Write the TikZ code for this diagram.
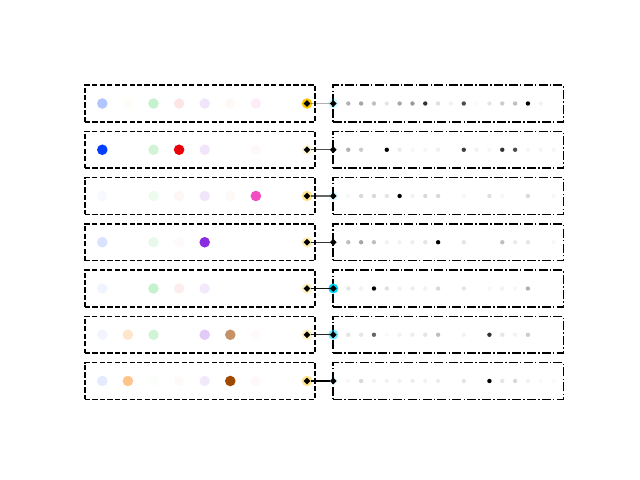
\documentclass[tikz,border=0pt]{standalone}
\usepackage{xcolor}
\usepackage{tikz}
\usetikzlibrary{shapes.geometric}

\definecolor{bblue}{HTML}{023EFF}
\definecolor{borange}{HTML}{FF7C00}
\definecolor{bgreen}{HTML}{1AC938}
\definecolor{bred}{HTML}{E8000B}
\definecolor{bpurple}{HTML}{8B2BE2}
\definecolor{bbrown}{HTML}{9F4800}
\definecolor{bpink}{HTML}{F14CC1}
\definecolor{bgray}{HTML}{A3A3A3}
\definecolor{bgold}{HTML}{FFC400}
\definecolor{bcyan}{HTML}{00D7FF}
\colorlet{pal1}{bblue}
\colorlet{pal2}{borange}
\colorlet{pal3}{bgreen}
\colorlet{pal4}{bred}
\colorlet{pal5}{bpurple}
\colorlet{pal6}{bbrown}
\colorlet{pal7}{bpink}
\colorlet{pal8}{bgray}

\begin{document}
\begin{tikzpicture}[
    x=0.025cm, y=-0.025cm,
    leftbox/.style  = {rectangle, draw=black, line width=0.95pt,
                       dash pattern=on 3.7pt off 1.6pt,
                       minimum width=5.75cm, minimum height=0.92cm, inner sep=0pt},
    rightbox/.style = {rectangle, draw=black, line width=0.95pt,
                       dash pattern=on 6.4pt off 1.6pt on 1pt off 1.6pt,
                       minimum width=5.76cm, minimum height=0.92cm, inner sep=0pt},
    joint/.style    = {diamond, fill=black, inner sep=0pt, minimum size=1.75mm},
    link/.style     = {line width=0.75pt},
]
\useasboundingbox (0,0) rectangle (640,480);

% one row per sample: y, gold, cyan, link opacity, link width, left dots, right dots
\foreach \y/\gold/\cyan/\lk/\lw/\lops/\rops [count=\r] in {
  103.5/1/0.2/0.3/0.75/{0.3,0.03,0.25,0.1,0.12,0.03,0.1,0}/{0.3,0.35,0.25,0.1,0.35,0.4,0.8,0.12,0.05,0.7,0.02,0.1,0.2,0.25,1,0.05,0},
  149.75/0.15/0/0.7/0.75/{1,0,0.2,1,0.12,0,0.04,0}/{0.3,0.2,0,1,0.08,0.03,0.03,0.06,0,0.75,0.05,0.03,0.8,0.7,0.03,0.04,0.04},
  196/0.45/0.1/0.6/0.75/{0.03,0,0.08,0.04,0.12,0.03,1,0}/{0.03,0.15,0.15,0.1,1,0.05,0.15,0.15,0,0.03,0,0.12,0.03,0,0.15,0,0.03},
  242.25/0.3/0/0.8/0.75/{0.15,0,0.1,0.02,1,0,0,0}/{0.25,0.35,0.25,0.05,0.05,0.07,0.1,1,0,0.1,0,0,0.25,0.08,0.1,0,0.03},
  288.5/0.25/1/0.95/0.75/{0.06,0,0.25,0.07,0.1,0,0,0}/{0.1,0.05,1,0.12,0.05,0.07,0.05,0.15,0,0.1,0,0.03,0.05,0.03,0.3,0,0},
  334.75/0.25/0.55/0.85/0.75/{0.05,0.2,0.2,0,0.25,0.6,0.03,0}/{0.1,0.1,0.6,0.02,0.05,0.07,0.1,0.25,0,0.05,0,0.8,0.1,0.05,0.2,0,0},
  381/0.45/0.05/1/1.1/{0.1,0.45,0.02,0.02,0.1,1,0.04,0}/{0.03,0.15,0.05,0.05,0.05,0.07,0.05,0.07,0,0.1,0,1,0.1,0.15,0.05,0.02,0.02}}
{
  \node[leftbox]  (pool\r) at (200,\y)   {};
  \node[rightbox] (seq\r)  at (448.3,\y) {};

  \foreach \op [count=\i] in \lops
    \fill[pal\i, fill opacity=\op] ({102.3+25.6*(\i-1)},\y) circle[radius=1.32mm];
  \foreach \op [count=\i] in \rops
    \fill[black, fill opacity=\op] ({348.3+12.83*(\i-1)},\y) circle[radius=0.55mm];

  \fill[bgold, fill opacity=\gold] (307,\y)   circle[radius=1.32mm];
  \fill[bcyan, fill opacity=\cyan] (333.3,\y) circle[radius=1.25mm];

  \node[joint] (src\r) at (307,\y)   {};
  \node[joint] (dst\r) at (333.3,\y) {};
  \draw[link, draw opacity=\lk, line width=\lw pt] (src\r) -- (dst\r);
}
\end{tikzpicture}
\end{document}
